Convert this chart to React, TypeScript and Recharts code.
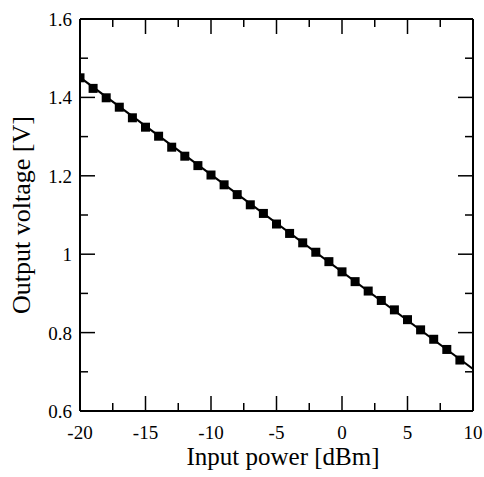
import React from 'react'
import { ComposedChart, Line, XAxis, YAxis, Label } from 'recharts'

// measured points, input power in dBm
const powerDbm = [-20, -19, -18, -17, -16, -15, -14, -13, -12, -11, -10, -9, -8, -7, -6, -5, -4, -3, -2, -1, 0, 1, 2, 3, 4, 5, 6, 7, 8, 9]
const voltage = [1.45, 1.423, 1.399, 1.375, 1.348, 1.324, 1.301, 1.273, 1.25, 1.226, 1.202, 1.177, 1.152, 1.126, 1.104, 1.077, 1.053, 1.029, 1.005, 0.981, 0.955, 0.93, 0.906, 0.882, 0.858, 0.833, 0.807, 0.783, 0.757, 0.73]

// straight fit drawn across the whole range
const fitX = [-20, 10]
const fitY = [1.451, 0.707]

const xTicks = [-20, -17.5, -15, -12.5, -10, -7.5, -5, -2.5, 0, 2.5, 5, 7.5, 10]
const yTicks = [0.6, 0.7, 0.8, 0.9, 1, 1.1, 1.2, 1.3, 1.4, 1.5, 1.6]

const points = powerDbm.map((x, i) => ({ x, y: voltage[i] }))
const fit = fitX.map((x, i) => ({ x, y: fitY[i] }))

const FONT = '"Liberation Serif", "Times New Roman", serif'
const MAJOR = 15
const MINOR = 8

const isMajorX = (v: number) => Number.isInteger(v) && v % 5 === 0
const isMajorY = (v: number) => Math.round(v * 10) % 2 === 0

const BottomTick = (props: any) => {
  const { x, y, payload } = props
  const major = isMajorX(payload.value)
  return (
    <g>
      <line x1={x} y1={y} x2={x} y2={y - (major ? MAJOR : MINOR)} stroke="#000" strokeWidth={1.5} />
      {major && (
        <text x={x} y={y + 28} textAnchor="middle" fontSize={19} fontFamily={FONT} fill="#000">
          {payload.value}
        </text>
      )}
    </g>
  )
}

const TopTick = (props: any) => {
  const { x, y, payload } = props
  const major = isMajorX(payload.value)
  return <line x1={x} y1={y} x2={x} y2={y + (major ? MAJOR : MINOR)} stroke="#000" strokeWidth={1.5} />
}

const LeftTick = (props: any) => {
  const { x, y, payload } = props
  const major = isMajorY(payload.value)
  return (
    <g>
      <line x1={x} y1={y} x2={x + (major ? MAJOR : MINOR)} y2={y} stroke="#000" strokeWidth={1.5} />
      {major && (
        <text x={x - 8} y={y + 7} textAnchor="end" fontSize={19} fontFamily={FONT} fill="#000">
          {Number(payload.value.toFixed(1)).toString()}
        </text>
      )}
    </g>
  )
}

const RightTick = (props: any) => {
  const { x, y, payload } = props
  const major = isMajorY(payload.value)
  return <line x1={x} y1={y} x2={x - (major ? MAJOR : MINOR)} y2={y} stroke="#000" strokeWidth={1.5} />
}

const SquareDot = (props: any) => {
  const { cx, cy, index } = props
  return <rect key={index} x={cx - 4.5} y={cy - 4.5} width={9} height={9} fill="#000" />
}

const axisLine = { stroke: '#000', strokeWidth: 2 }

export default function App() {
  return (
    <div style={{ position: 'fixed', left: 0, top: 0, background: '#fff' }}>
      <ComposedChart width={484} height={477} margin={{ top: 18, right: 10, left: 0, bottom: 0 }}>
        <XAxis
          xAxisId="b"
          dataKey="x"
          type="number"
          domain={[-20, 10]}
          ticks={xTicks}
          interval={0}
          height={66}
          tickSize={0}
          tickMargin={0}
          axisLine={axisLine}
          tick={<BottomTick />}
          allowDataOverflow
        >
          <Label
            content={() => (
              <text x={283} y={465} textAnchor="middle" fontSize={25} fontFamily={FONT} fill="#000">
                Input power [dBm]
              </text>
            )}
          />
        </XAxis>
        <XAxis
          xAxisId="t"
          orientation="top"
          dataKey="x"
          type="number"
          domain={[-20, 10]}
          ticks={xTicks}
          interval={0}
          height={1}
          tickSize={0}
          tickMargin={0}
          axisLine={axisLine}
          tick={<TopTick />}
          allowDataOverflow
        />
        <YAxis
          yAxisId="l"
          type="number"
          domain={[0.6, 1.6]}
          ticks={yTicks}
          interval={0}
          width={80}
          tickSize={0}
          tickMargin={0}
          axisLine={axisLine}
          tick={<LeftTick />}
          allowDataOverflow
        >
          <Label
            content={() => (
              <text
                x={30}
                y={215}
                textAnchor="middle"
                fontSize={26}
                fontFamily={FONT}
                fill="#000"
                transform="rotate(-90 30 215)"
              >
                Output voltage [V]
              </text>
            )}
          />
        </YAxis>
        <YAxis
          yAxisId="r"
          orientation="right"
          type="number"
          domain={[0.6, 1.6]}
          ticks={yTicks}
          interval={0}
          width={1}
          tickSize={0}
          tickMargin={0}
          axisLine={axisLine}
          tick={<RightTick />}
          allowDataOverflow
        />
        <Line
          xAxisId="b"
          yAxisId="l"
          data={fit}
          dataKey="y"
          type="linear"
          stroke="#000"
          strokeWidth={2}
          dot={false}
          activeDot={false}
          isAnimationActive={false}
        />
        <Line
          xAxisId="b"
          yAxisId="l"
          data={points}
          dataKey="y"
          type="linear"
          stroke="none"
          dot={<SquareDot />}
          activeDot={false}
          isAnimationActive={false}
        />
      </ComposedChart>
    </div>
  )
}
